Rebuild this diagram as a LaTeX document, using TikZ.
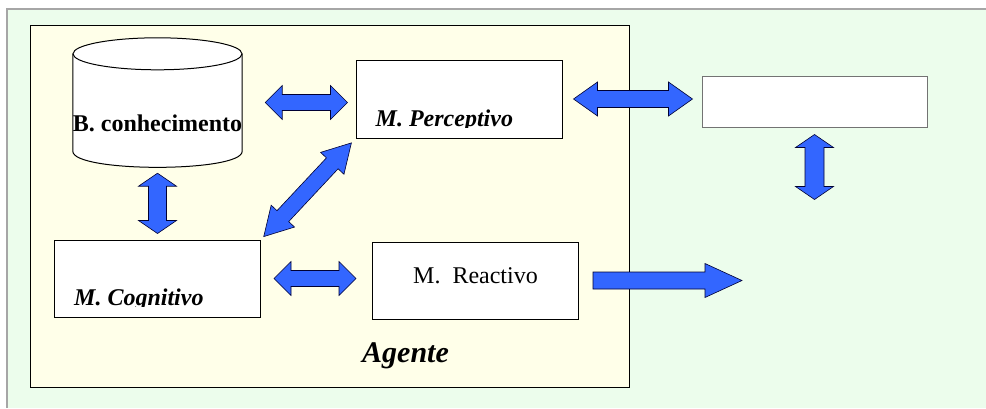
\documentclass[tikz,border=0pt]{standalone}
\usepackage{fontspec}
\setmainfont{Liberation Serif}[BoldFont = {Liberation Serif Bold}, ItalicFont = {Liberation Serif Italic}, BoldItalicFont = {Liberation Serif Bold Italic}]
\usetikzlibrary{positioning}
\usetikzlibrary{calc}

\definecolor{bgverde}{RGB}{236,253,236}
\definecolor{agamarelo}{RGB}{255,255,233}
\definecolor{setaazul}{RGB}{51,102,255}

% block arrows: #1 start, #2 end, #3 #4 gaps, #5 head length, #6 head half, #7 shaft half
\newcommand\setadupla[7]{%
	\coordinate (sa) at ($(#1)!#3!(#2)$);
	\coordinate (sb) at ($(#2)!#4!(#1)$);
	\coordinate (ha) at ($(sa)!#5!(sb)$);
	\coordinate (hb) at ($(sb)!#5!(sa)$);
	\filldraw[seta] (sa) -- ($(ha)!#6!90:(sb)$) -- ($(ha)!#7!90:(sb)$) -- ($(hb)!#7!-90:(ha)$) -- ($(hb)!#6!-90:(ha)$) -- (sb)
		-- ($(hb)!#6!90:(ha)$) -- ($(hb)!#7!90:(ha)$) -- ($(ha)!#7!-90:(sb)$) -- ($(ha)!#6!-90:(sb)$) -- cycle;
}
\newcommand\setasimples[6]{%
	\coordinate (sa) at ($(#1)!#3!(#2)$);
	\coordinate (sb) at (#2);
	\coordinate (hb) at ($(sb)!#4!(sa)$);
	\filldraw[seta] ($(sa)!#6!90:(sb)$) -- ($(hb)!#6!-90:(sa)$) -- ($(hb)!#5!-90:(sa)$) -- (sb)
		-- ($(hb)!#5!90:(sa)$) -- ($(hb)!#6!90:(sa)$) -- ($(sa)!#6!-90:(sb)$) -- cycle;
}

\begin{document}
\begin{tikzpicture}[x = 1pt, y = -1pt, on grid, node distance = 200pt,
	modulo/.style = {rectangle, draw, fill = white, line width = 1pt, minimum width = 206pt, minimum height = 77pt, inner sep = 0pt},
	rotulo/.style = {font = \fontsize{24}{28}\selectfont\bfseries\itshape, anchor = base west, inner sep = 0pt},
	seta/.style = {fill = setaazul, draw = black!80!blue, line width = 0.6pt, line join = miter}]
	\useasboundingbox (0,0) rectangle (986,408);
	\fill[bgverde] (7,9) rectangle (986,408);
	\draw[black!35, line width = 1.2pt] (7,408) -- (7,9) -- (986,9);
	\draw[fill = agamarelo, line width = 1pt] (30,25) rectangle (629,387);

	% base de conhecimento (cilindro)
	\node[rectangle, minimum width = 169pt, minimum height = 129pt, inner sep = 0pt] (kb) at (157.5,102.5) {};
	\draw[fill = white, line width = 1pt] ([yshift = -16pt]kb.north west) -- ([yshift = 16pt]kb.south west)
		.. controls ([yshift = -5.5pt]kb.south west) and ([yshift = -5.5pt]kb.south east) .. ([yshift = 16pt]kb.south east)
		-- ([yshift = -16pt]kb.north east);
	\draw[fill = white, line width = 1pt] ([yshift = -16pt]kb.north) ellipse [x radius = 84.5pt, y radius = 16pt];
	\node[font = \fontsize{24}{28}\selectfont\bfseries, anchor = base, inner sep = 0pt] (kbtxt) at ([yshift = -28.5pt]kb.center) {B. conhecimento};

	\node[modulo, minimum height = 78pt] (perc) [above right = 3.5pt and 301.5pt of kb] {};
	\node[modulo] (cog) [below = 176pt of kb] {};
	\node[modulo] (reac) [below right = 2pt and 318pt of cog] {};
	\node[modulo, draw = black!55, minimum width = 225pt, minimum height = 51pt] (amb) [below right = 2.5pt and 355.5pt of perc] {};
	\coordinate (ambbaixo) at ([yshift = -72pt]amb.south);
	\coordinate (saida) at ([xshift = 163pt]reac.east);

	\begin{scope}
		\clip (perc.north west) rectangle ([yshift = -28.5pt]perc.east);
		\node[rotulo] (perctxt) at ([xshift = 20pt, yshift = -27pt]perc.west) {M. Perceptivo};
	\end{scope}
	\begin{scope}
		\clip (cog.north west) rectangle ([yshift = -28pt]cog.east);
		\node[rotulo] (cogtxt) at ([xshift = 20pt, yshift = -26.5pt]cog.west) {M. Cognitivo};
	\end{scope}
	\node[font = \fontsize{24}{28}\selectfont, anchor = base, inner sep = 0pt] (reactxt) at ([yshift = -2.5pt]reac.center) {M.\ \ Reactivo};
	\node[rotulo, font = \fontsize{30}{34}\selectfont\bfseries\itshape] (agente) at (362,362) {Agente};

	\setadupla{kb.east}{perc.west |- kb.east}{23pt}{8pt}{17pt}{17pt}{8pt}
	\setadupla{kb.south}{cog.north}{6pt}{6pt}{13pt}{19pt}{9pt}
	\setadupla{cog.north east}{perc.south west}{4pt}{6pt}{28pt}{16pt}{8pt}
	\setadupla{cog.east}{reac.west |- cog.east}{13pt}{16pt}{17pt}{17pt}{8pt}
	\setadupla{perc.east}{amb.west |- perc.east}{11pt}{9pt}{24pt}{17pt}{8.5pt}
	\setadupla{amb.south}{ambbaixo}{7pt}{0pt}{13pt}{19pt}{9.5pt}
	\setasimples{reac.east}{saida}{14pt}{37pt}{17pt}{8.5pt}
\end{tikzpicture}
\end{document}
